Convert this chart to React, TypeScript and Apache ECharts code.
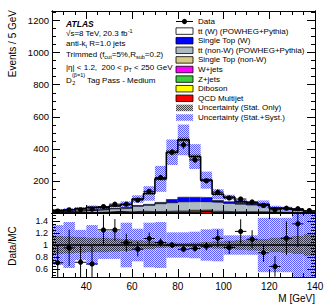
import React, { useEffect, useRef } from "react";
import * as echarts from "echarts";

// ---------------- data ----------------
const binCentres = [27.5, 32.5, 37.5, 42.5, 47.5, 52.5, 57.5, 62.5, 67.5, 72.5, 77.5, 82.5, 87.5, 92.5, 97.5, 102.5, 107.5, 112.5, 117.5, 122.5, 127.5, 132.5, 137.5];
const binHalfWidth = 2.5;

const dataCounts = [12, 20, 20, 24, 40, 55, 55, 81, 135, 222, 379, 424, 331, 201, 130, 94, 87, 69, 47, 20, 30, 27, 15];
const dataRatioErr = [0.28, 0.3, 0.3, 0.3, 0.25, 0.18, 0.15, 0.12, 0.1, 0.07, 0.05, 0.05, 0.05, 0.07, 0.14, 0.11, 0.2, 0.15, 0.15, 0.17, 0.28, 0.38, 0.6];

// MC stack, bottom -> top
const qcdMultijet = [0, 0, 0, 0, 0, 4, 0, 0, 0, 0, 0, 0, 0, 8, 0, 0, 0, 0, 0, 0, 0, 0, 0];
const diboson = [0, 0, 1, 0, 1, 1, 1, 1, 1, 1, 2, 2, 2, 1, 1, 1, 1, 1, 1, 1, 0, 0, 0];
const zJets = [0, 1, 0, 1, 1, 1, 1, 1, 2, 2, 2, 2, 2, 2, 2, 1, 1, 1, 1, 1, 1, 0, 0];
const wJets = [1, 1, 1, 1, 2, 2, 2, 6, 2, 3, 3, 3, 8, 3, 3, 2, 2, 2, 2, 1, 1, 1, 0];
const singleTopNonW = [1, 1, 1, 2, 2, 2, 3, 3, 4, 4, 5, 5, 5, 5, 5, 4, 4, 4, 3, 2, 2, 1, 1];
const ttNonW = [6, 7, 10, 13, 14, 16, 23, 31, 39, 48, 52, 58, 54, 51, 55, 52, 47, 42, 38, 21, 18, 14, 4];
const singleTopW = [1, 1, 2, 2, 3, 3, 4, 5, 6, 8, 20, 28, 27, 26, 12, 10, 8, 6, 4, 2, 2, 2, 1];
const ttW = [8, 10, 13, 16, 9, 15, 19, 40, 68, 147, 295, 358, 254, 109, 39, 28, 8, 7, 5, 3, 3, 2, 0];

const statRelErr = [0.15, 0.14, 0.13, 0.12, 0.12, 0.11, 0.1, 0.08, 0.07, 0.05, 0.04, 0.035, 0.04, 0.05, 0.06, 0.07, 0.08, 0.09, 0.1, 0.12, 0.13, 0.15, 0.18];
const systRelErr = [0.33, 0.38, 0.25, 0.33, 0.23, 0.23, 0.37, 0.27, 0.37, 0.38, 0.21, 0.21, 0.22, 0.26, 0.27, 0.16, 0.16, 0.16, 0.45, 0.45, 0.45, 0.55, 0.55];

const xTickLabels = [40, 60, 80, 100, 120, 140];
const mainYTickLabels = [200, 400, 600, 800, 1000, 1200];
const ratioYTickLabels = [0.6, 0.8, 1, 1.2, 1.4];

const legendNames = [
  "Data",
  "tt (W) (POWHEG+Pythia)",
  "Single Top (W)",
  "tt (non-W) (POWHEG+Pythia)",
  "Single Top (non-W)",
  "W+jets",
  "Z+jets",
  "Diboson",
  "QCD Multijet",
  "Uncertainty (Stat. Only)",
  "Uncertainty (Stat.+Syst.)",
];

// ---------------- layout / style ----------------
const FONT = "'Liberation Sans', Arial, Helvetica, sans-serif";
const X_MIN = 25, X_MAX = 140;
const Y_MAX = 1260;
const R_MIN = 0.47, R_MAX = 1.53;
const GRID_L = 52, GRID_W = 263;
const MAIN_T = 11, MAIN_H = 202;
const RAT_T = 213, RAT_H = 64;

function steps(a: number, b: number, s: number) {
  const out: number[] = [];
  for (let v = a; v <= b + 1e-9; v += s) out.push(+v.toFixed(4));
  return out;
}
function without(arr: number[], ex: number[]) {
  return arr.filter((v) => !ex.some((e) => Math.abs(e - v) < 1e-6));
}

function makePattern(on: string, off: string | null) {
  const c = document.createElement("canvas");
  c.width = 2; c.height = 2;
  const ctx = c.getContext("2d")!;
  ctx.fillStyle = on;
  ctx.fillRect(0, 0, 1, 1);
  ctx.fillRect(1, 1, 1, 1);
  if (off) {
    ctx.fillStyle = off;
    ctx.fillRect(1, 0, 1, 1);
    ctx.fillRect(0, 1, 1, 1);
  }
  return { image: c, repeat: "repeat", imageWidth: 2, imageHeight: 2 } as any;
}

function clipRect(x1: number, y1: number, x2: number, y2: number, cs: any) {
  const l = Math.max(Math.min(x1, x2), cs.x);
  const r = Math.min(Math.max(x1, x2), cs.x + cs.width);
  const t = Math.max(Math.min(y1, y2), cs.y);
  const b = Math.min(Math.max(y1, y2), cs.y + cs.height);
  if (r <= l || b <= t) return null;
  return { x: l, y: t, width: r - l, height: b - t };
}

function mkAxis(o: { gridIndex: number; position: string; min: number; max: number; ticks: number[]; len: number; labels?: number[]; labelOpts?: any }) {
  return {
    type: "value",
    gridIndex: o.gridIndex,
    position: o.position,
    min: o.min,
    max: o.max,
    z: 10,
    silent: true,
    axisLine: { show: true, onZero: false, lineStyle: { color: "#000", width: 1 } },
    axisTick: { show: true, inside: true, length: o.len, customValues: o.ticks, lineStyle: { color: "#000", width: 1 } },
    axisLabel: o.labels
      ? { show: true, customValues: o.labels, color: "#000", fontFamily: FONT, formatter: (v: number) => String(v), ...(o.labelOpts || {}) }
      : { show: false },
    splitLine: { show: false },
    minorTick: { show: false },
    axisPointer: { show: false },
  };
}

function buildOption() {
  const systPat = makePattern("#5c5cff", "rgba(185,185,255,0.6)");
  const statPat = makePattern("rgba(40,40,40,0.85)", "rgba(90,90,110,0.35)");

  const layers = [
    { vals: qcdMultijet, color: "#ff0000" },
    { vals: diboson, color: "#ffff00" },
    { vals: zJets, color: "#3ccf3c" },
    { vals: wJets, color: "#ff00ff" },
    { vals: singleTopNonW, color: "#d6cc85" },
    { vals: ttNonW, color: "#adbac4" },
    { vals: singleTopW, color: "#0000ff" },
    { vals: ttW, color: "#ffffff" },
  ];

  const n = binCentres.length;
  const cum: number[][] = [];
  let running = new Array(n).fill(0);
  layers.forEach((L) => {
    const next = running.map((v, i) => v + L.vals[i]);
    cum.push(next);
    running = next;
  });
  const mcTotal = running;

  const series: any[] = [];

  // stacked fills
  layers.forEach((L, li) => {
    const base = li === 0 ? new Array(n).fill(0) : cum[li - 1];
    series.push({
      type: "custom",
      xAxisIndex: 0,
      yAxisIndex: 0,
      silent: true,
      data: binCentres.map((c, i) => [c - binHalfWidth, c + binHalfWidth, base[i], cum[li][i]]),
      renderItem: (params: any, api: any) => {
        const a = api.coord([api.value(0), api.value(3)]);
        const b = api.coord([api.value(1), api.value(2)]);
        const shape = clipRect(a[0], a[1], b[0], b[1], params.coordSys);
        if (!shape) return null;
        return { type: "rect", shape, style: { fill: L.color, stroke: null } };
      },
    });
  });

  // outlines
  const edgesOf = (vals: number[]) => {
    const pts = binCentres.map((c, i) => [c - binHalfWidth, vals[i]]);
    pts.push([binCentres[n - 1] + binHalfWidth, vals[n - 1]]);
    return pts;
  };
  layers.forEach((L, li) => {
    const isTop = li === layers.length - 1;
    series.push({
      type: "line",
      xAxisIndex: 0,
      yAxisIndex: 0,
      step: "end",
      symbol: "none",
      silent: true,
      clip: true,
      data: edgesOf(cum[li]),
      lineStyle: { color: "#000", width: isTop ? 1.6 : 0.7 },
    });
  });

  // uncertainty bands
  const bandSeries = (xi: number, yi: number, rel: number[], fill: any, ratio: boolean) => ({
    type: "custom",
    xAxisIndex: xi,
    yAxisIndex: yi,
    silent: true,
    data: binCentres.map((c, i) => {
      const centre = ratio ? 1 : mcTotal[i];
      return [c - binHalfWidth, c + binHalfWidth, centre * (1 - rel[i]), centre * (1 + rel[i])];
    }),
    renderItem: (params: any, api: any) => {
      const a = api.coord([api.value(0), api.value(3)]);
      const b = api.coord([api.value(1), api.value(2)]);
      const shape = clipRect(a[0], a[1], b[0], b[1], params.coordSys);
      if (!shape) return null;
      return { type: "rect", shape, style: { fill, stroke: null } };
    },
  });
  series.push(bandSeries(0, 0, systRelErr, systPat, false));
  series.push(bandSeries(0, 0, statRelErr, statPat, false));

  // data points
  const pointRender = (params: any, api: any) => {
    const x = api.value(0), y = api.value(1), e = api.value(2);
    const cs = params.coordSys;
    const top = cs.y, bot = cs.y + cs.height;
    const p = api.coord([x, y]);
    const up = api.coord([x, y + e]);
    const dn = api.coord([x, y - e]);
    const y1 = Math.max(top, up[1]);
    const y2 = Math.min(bot, dn[1]);
    const children: any[] = [];
    if (y2 > y1) children.push({ type: "line", shape: { x1: p[0], y1, x2: p[0], y2 }, style: { stroke: "#000", lineWidth: 1 } });
    if (p[1] >= top && p[1] <= bot) {
      const pl = api.coord([x - binHalfWidth, y]);
      const pr = api.coord([x + binHalfWidth, y]);
      children.push({ type: "line", shape: { x1: pl[0], y1: p[1], x2: pr[0], y2: p[1] }, style: { stroke: "#000", lineWidth: 1 } });
      children.push({ type: "circle", shape: { cx: p[0], cy: p[1], r: 2.6 }, style: { fill: "#000" } });
    }
    return { type: "group", children };
  };

  series.push({
    type: "custom",
    xAxisIndex: 0,
    yAxisIndex: 0,
    silent: true,
    z: 5,
    data: binCentres.map((c, i) => [c, dataCounts[i], dataRatioErr[i] * mcTotal[i]]),
    renderItem: pointRender,
  });

  // ratio panel
  series.push(bandSeries(4, 4, systRelErr, systPat, true));
  series.push(bandSeries(4, 4, statRelErr, statPat, true));
  series.push({
    type: "line",
    xAxisIndex: 4,
    yAxisIndex: 4,
    symbol: "none",
    silent: true,
    data: [[X_MIN, 1], [X_MAX, 1]],
    lineStyle: { color: "#000", width: 1.3 },
  });
  series.push({
    type: "custom",
    xAxisIndex: 4,
    yAxisIndex: 4,
    silent: true,
    z: 5,
    data: binCentres.map((c, i) => [c, dataCounts[i] / mcTotal[i], dataRatioErr[i]]),
    renderItem: pointRender,
  });

  // axes
  const xAll = steps(25, 140, 5);
  const xMinor = without(xAll, xTickLabels);
  const yMainMinor = without(steps(50, 1250, 50), mainYTickLabels);
  const rAll = steps(0.5, 1.5, 0.05);
  const rMinor = without(rAll, ratioYTickLabels);

  const xAxes = [
    mkAxis({ gridIndex: 0, position: "bottom", min: X_MIN, max: X_MAX, ticks: xTickLabels, len: 8 }),
    mkAxis({ gridIndex: 0, position: "bottom", min: X_MIN, max: X_MAX, ticks: xMinor, len: 4 }),
    mkAxis({ gridIndex: 0, position: "top", min: X_MIN, max: X_MAX, ticks: xTickLabels, len: 8 }),
    mkAxis({ gridIndex: 0, position: "top", min: X_MIN, max: X_MAX, ticks: xMinor, len: 4 }),
    mkAxis({ gridIndex: 1, position: "bottom", min: X_MIN, max: X_MAX, ticks: xTickLabels, len: 8, labels: xTickLabels, labelOpts: { fontSize: 10, margin: 4 } }),
    mkAxis({ gridIndex: 1, position: "bottom", min: X_MIN, max: X_MAX, ticks: xMinor, len: 4 }),
    mkAxis({ gridIndex: 1, position: "top", min: X_MIN, max: X_MAX, ticks: xTickLabels, len: 6 }),
    mkAxis({ gridIndex: 1, position: "top", min: X_MIN, max: X_MAX, ticks: xMinor, len: 3 }),
  ];
  const yAxes = [
    mkAxis({ gridIndex: 0, position: "left", min: 0, max: Y_MAX, ticks: mainYTickLabels, len: 8, labels: mainYTickLabels, labelOpts: { fontSize: 9.5, margin: 3 } }),
    mkAxis({ gridIndex: 0, position: "left", min: 0, max: Y_MAX, ticks: yMainMinor, len: 4 }),
    mkAxis({ gridIndex: 0, position: "right", min: 0, max: Y_MAX, ticks: mainYTickLabels, len: 8 }),
    mkAxis({ gridIndex: 0, position: "right", min: 0, max: Y_MAX, ticks: yMainMinor, len: 4 }),
    mkAxis({ gridIndex: 1, position: "left", min: R_MIN, max: R_MAX, ticks: ratioYTickLabels, len: 8, labels: ratioYTickLabels, labelOpts: { fontSize: 9, margin: 4 } }),
    mkAxis({ gridIndex: 1, position: "left", min: R_MIN, max: R_MAX, ticks: rMinor, len: 4 }),
    mkAxis({ gridIndex: 1, position: "right", min: R_MIN, max: R_MAX, ticks: ratioYTickLabels, len: 8 }),
    mkAxis({ gridIndex: 1, position: "right", min: R_MIN, max: R_MAX, ticks: rMinor, len: 4 }),
  ];

  // graphics: legend + annotations + titles
  const graphic: any[] = [];
  const LX = 176, LW = 17, LH = 6.5, LTX = 198;
  const legendFills: any[] = [null, "#ffffff", "#0000ff", "#adbac4", "#d6cc85", "#ff00ff", "#3ccf3c", "#ffff00", "#ff0000", statPat, systPat];
  legendNames.forEach((name, i) => {
    const y = 21.5 + 9.6 * i;
    if (i === 0) {
      graphic.push({ type: "line", shape: { x1: LX, y1: y, x2: LX + LW, y2: y }, style: { stroke: "#000", lineWidth: 1 } });
      graphic.push({ type: "circle", shape: { cx: LX + LW / 2, cy: y, r: 2.6 }, style: { fill: "#000" } });
    } else {
      const bordered = i <= 8;
      graphic.push({
        type: "rect",
        shape: { x: LX, y: y - LH / 2, width: LW, height: LH },
        style: { fill: legendFills[i], stroke: bordered ? "#000" : null, lineWidth: 0.8 },
      });
    }
    graphic.push({
      type: "text",
      x: LTX,
      y,
      style: { text: name, fontSize: 8, fontFamily: FONT, fill: "#000", align: "left", verticalAlign: "middle" },
    });
  });

  const rich = {
    n: { fontSize: 8, fontFamily: FONT, fill: "#000", lineHeight: 11, verticalAlign: "middle" },
    sub: { fontSize: 5.5, fontFamily: FONT, fill: "#000", lineHeight: 5, verticalAlign: "bottom" },
    sup: { fontSize: 5.5, fontFamily: FONT, fill: "#000", lineHeight: 5, verticalAlign: "top" },
  };
  const AX = 66;
  graphic.push({
    type: "text", x: AX, y: 24,
    style: { text: "ATLAS", fontSize: 8.5, fontWeight: "bold", fontStyle: "italic", fontFamily: FONT, fill: "#000", align: "left", verticalAlign: "middle" },
  });
  const richLines: [string, number][] = [
    ["{n|√s=8 TeV, 20.3 fb}{sup|-1}", 33.5],
    ["{n|anti-k}{sub|t}{n| R=1.0 jets}", 43],
    ["{n|Trimmed (f}{sub|cut}{n|=5%,R}{sub|sub}{n|=0.2)}", 54.5],
    ["{n||η| < 1.2,  200 < p}{sub|T}{n| < 250 GeV}", 67],
  ];
  richLines.forEach(([t, y]) => {
    graphic.push({ type: "text", x: AX, y, style: { text: t, rich, fontSize: 8, fontFamily: FONT, fill: "#000", align: "left", verticalAlign: "middle" } });
  });
  graphic.push({ type: "text", x: AX, y: 80, style: { text: "D", fontSize: 8, fontFamily: FONT, fill: "#000", align: "left", verticalAlign: "middle" } });
  graphic.push({ type: "text", x: AX + 6.2, y: 83, style: { text: "2", fontSize: 5.5, fontFamily: FONT, fill: "#000", align: "left", verticalAlign: "middle" } });
  graphic.push({ type: "text", x: AX + 6, y: 75, style: { text: "(β=1)", fontSize: 5.5, fontFamily: FONT, fill: "#000", align: "left", verticalAlign: "middle" } });
  graphic.push({ type: "text", x: AX + 21, y: 80, style: { text: "Tag Pass - Medium", fontSize: 8, fontFamily: FONT, fill: "#000", align: "left", verticalAlign: "middle" } });

  graphic.push({
    type: "text", x: 12.5, y: 10, rotation: Math.PI / 2,
    style: { text: "Events / 5 GeV", fontSize: 10, fontFamily: FONT, fill: "#000", align: "right", verticalAlign: "middle" },
  });
  graphic.push({
    type: "text", x: 12.5, y: 246, rotation: Math.PI / 2,
    style: { text: "Data/MC", fontSize: 10, fontFamily: FONT, fill: "#000", align: "center", verticalAlign: "middle" },
  });
  graphic.push({
    type: "text", x: 315, y: 298,
    style: { text: "M [GeV]", fontSize: 10, fontFamily: FONT, fill: "#000", align: "right", verticalAlign: "middle" },
  });

  return {
    animation: false,
    backgroundColor: "#ffffff",
    grid: [
      { left: GRID_L, top: MAIN_T, width: GRID_W, height: MAIN_H, containLabel: false },
      { left: GRID_L, top: RAT_T, width: GRID_W, height: RAT_H, containLabel: false },
    ],
    xAxis: xAxes,
    yAxis: yAxes,
    series,
    graphic,
  };
}

export default function App() {
  const ref = useRef<HTMLDivElement>(null);
  useEffect(() => {
    const chart = echarts.init(ref.current!, null, { renderer: "svg" });
    chart.setOption(buildOption() as any);
    return () => chart.dispose();
  }, []);
  return (
    <div
      ref={ref}
      style={{ position: "fixed", left: 0, top: 0, width: 332, height: 305, background: "#fff" }}
    />
  );
}
